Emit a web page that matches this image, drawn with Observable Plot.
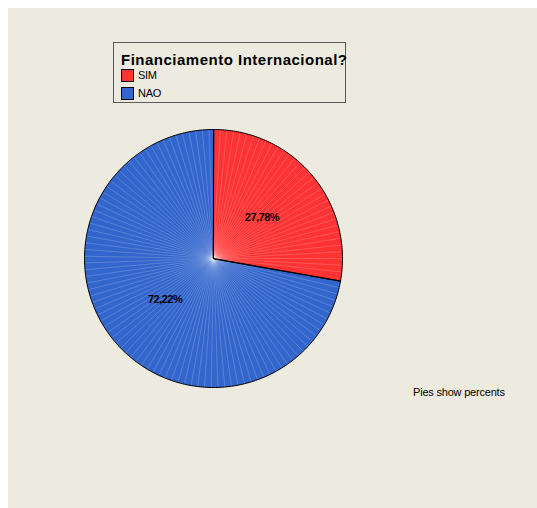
<!DOCTYPE html>
<html>
<head>
<meta charset="utf-8">
<script src="https://cdn.jsdelivr.net/npm/d3@7"></script>
<script src="https://cdn.jsdelivr.net/npm/@observablehq/plot@0.6"></script>
<style>
  html, body { margin: 0; padding: 0; background: #ffffff; }
  #wrap { position: relative; width: 537px; height: 508px; overflow: hidden; background: #ffffff; font-family: "Liberation Sans", Arial, sans-serif; }
  #bg { position: absolute; left: 8px; top: 8px; right: 0; bottom: 0; background: #EDEADF; }
  #chart { position: absolute; left: 0; top: 0; }
  #legend { position: absolute; left: 113px; top: 42px; width: 231px; height: 59px; border: 1px solid #5a5a5a; }
  #legend .title { position: absolute; left: 7px; top: 9px; font-weight: bold; font-size: 15px; letter-spacing: 0.5px; color: #000; white-space: nowrap; line-height: 15px; }
  #legend .item { position: absolute; left: 7px; height: 13px; font-size: 11px; line-height: 13px; color: #000; white-space: nowrap; letter-spacing: -0.3px; }
  #legend .sw { display: inline-block; width: 11px; height: 11px; border: 1px solid #000; vertical-align: top; margin-right: 4px; }
  #caption { position: absolute; left: 413px; top: 386px; font-size: 11px; letter-spacing: -0.2px; color: #000; white-space: nowrap; }
</style>
</head>
<body>
<div id="wrap">
  <div id="bg"></div>
  <div id="chart"></div>
  <div id="legend"></div>
  <div id="caption"></div>
</div>
<script>
// ---- data ----
const legendTitle = "Financiamento Internacional?";
const categories = ["SIM", "NAO"];
const percents = [27.78, 72.22];
const labels = ["27,78%", "72,22%"];
const colors = ["#FF3333", "#3366CC"];
const captionText = "Pies show percents";

// ---- layout ----
const W = 537, H = 508;
const cx = 213, cy = 258, R = 129;

// build wedge polygons (unit radius, angle clockwise from top)
const total = d3.sum(percents);
let acc = 0;
const polyPts = [];
const seams = [];
const labelPts = [];
categories.forEach((c, i) => {
  const a0 = acc / total * 2 * Math.PI;
  acc += percents[i];
  const a1 = acc / total * 2 * Math.PI;
  polyPts.push({cat: c, x: 0, y: 0});
  const n = Math.max(2, Math.ceil((a1 - a0) / (Math.PI / 180)));
  for (let k = 0; k <= n; k++) {
    const a = a0 + (a1 - a0) * k / n;
    polyPts.push({cat: c, x: Math.sin(a), y: Math.cos(a)});
  }
  const step = 3 * Math.PI / 180;
  for (let a = a0 + step; a < a1 - step / 2; a += step) {
    seams.push({cat: c, x1: 0, y1: 0, x2: Math.sin(a) * 0.995, y2: Math.cos(a) * 0.995});
  }
  const am = (a0 + a1) / 2;
  labelPts.push({label: labels[i], x: Math.sin(am) * 0.49, y: Math.cos(am) * 0.49});
});

const chart = Plot.plot({
  width: W,
  height: H,
  margin: 0,
  style: {background: "transparent", overflow: "visible"},
  x: {domain: [-cx / R, (W - cx) / R], range: [0, W], axis: null},
  y: {domain: [-(H - cy) / R, cy / R], range: [H, 0], axis: null},
  color: {domain: categories, range: colors},
  marks: [
    Plot.line(polyPts, {x: "x", y: "y", z: "cat", fill: "cat", stroke: "none", curve: "linear-closed"}),
    Plot.link(seams, {x1: "x1", y1: "y1", x2: "x2", y2: "y2", stroke: "#ffffff", strokeOpacity: 0.3, strokeWidth: 0.6}),
    Plot.line(polyPts, {x: "x", y: "y", z: "cat", fill: "none", stroke: "#000000", strokeWidth: 1, curve: "linear-closed"}),
    Plot.text(labelPts, {x: "x", y: "y", text: "label", fontSize: 11, fontWeight: "bold", fill: "#000", fontFamily: "Liberation Sans, Arial, sans-serif"})
  ]
});
chart.querySelectorAll("text").forEach(t => t.setAttribute("letter-spacing", "-0.5"));
document.getElementById("chart").appendChild(chart);

// legend
const lg = document.getElementById("legend");
const tdiv = document.createElement("div");
tdiv.className = "title";
tdiv.textContent = legendTitle;
lg.appendChild(tdiv);
categories.forEach((c, i) => {
  const it = document.createElement("div");
  it.className = "item";
  it.style.top = (26 + i * 18) + "px";
  const sw = document.createElement("span");
  sw.className = "sw";
  sw.style.background = colors[i];
  it.appendChild(sw);
  it.appendChild(document.createTextNode(c));
  lg.appendChild(it);
});
document.getElementById("caption").textContent = captionText;
</script>
</body>
</html>
